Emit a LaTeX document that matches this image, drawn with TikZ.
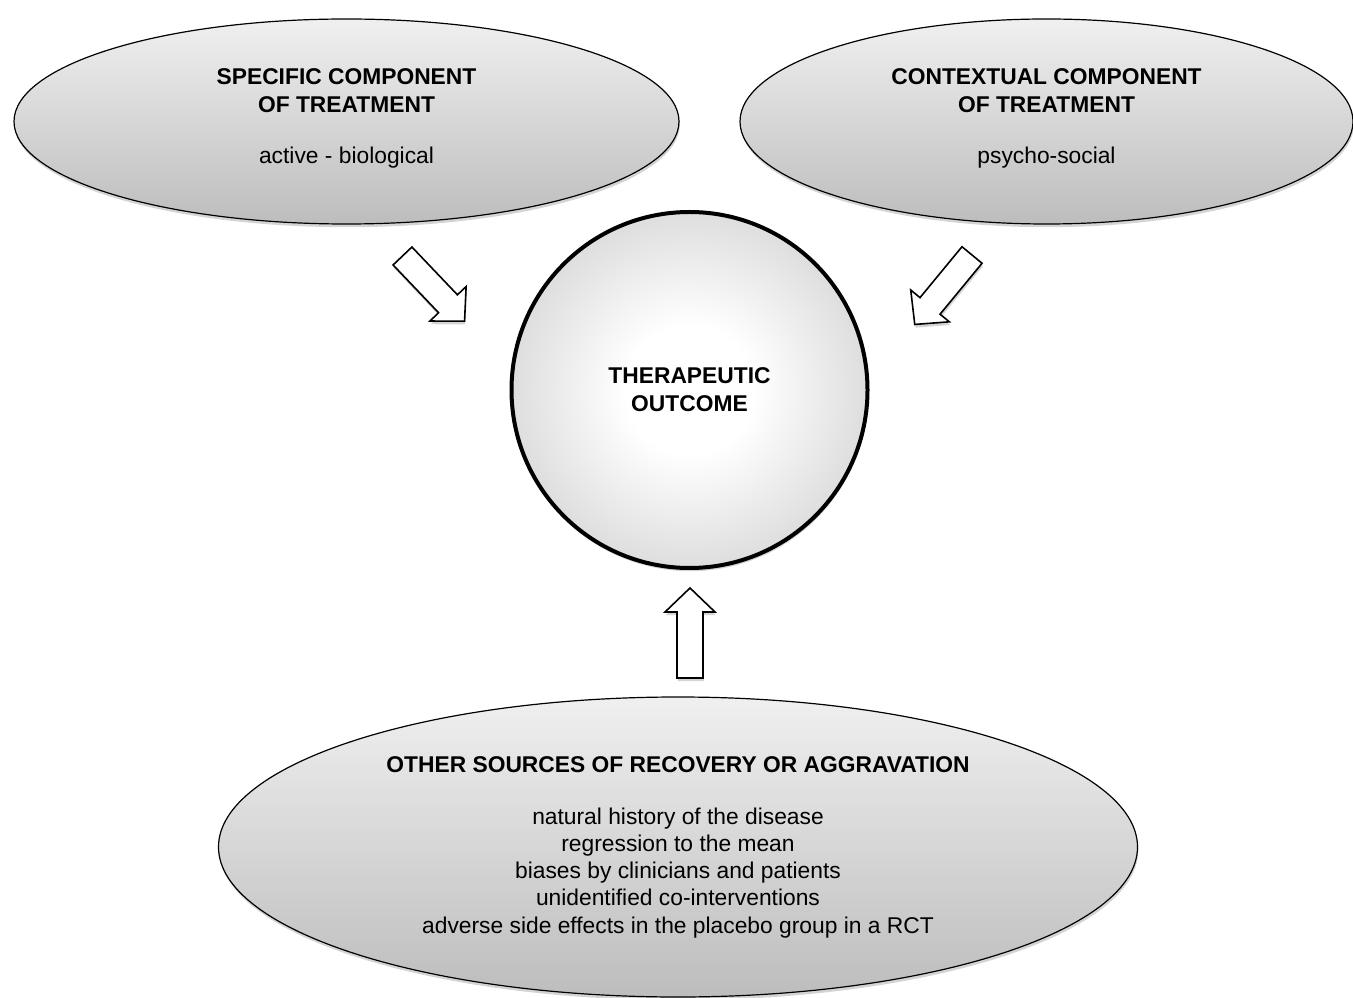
\documentclass[tikz,border=0pt]{standalone}
\usepackage{fontspec}
\setmainfont{Liberation Sans}
\usetikzlibrary{shapes.geometric,shadows}

% white core fading to grey towards the rim
\pgfdeclareradialshading{outcomeglow}{\pgfpoint{0bp}{0bp}}{%
  color(0bp)=(white); color(9bp)=(white); color(36bp)=(black!22);
  color(50bp)=(black!23)}

\tikzset{
  softshadow/.style={drop shadow={shadow xshift=0.4pt, shadow yshift=-1.6pt, opacity=0.28, fill=black!60}},
  oval/.style={ellipse, draw=black, line width=0.6pt, inner sep=0pt, align=center,
    top color=black!6, bottom color=black!26, softshadow,
    font=\fontsize{11.4}{14}\selectfont},
  hub/.style={circle, draw=black, line width=2pt, inner sep=0pt, align=center,
    shading=outcomeglow, softshadow,
    minimum size=178pt, font=\fontsize{11.4}{14}\selectfont\bfseries},
  hollowarrow/.style={draw=black, line width=0.8pt, fill=white, line join=miter, softshadow},
  blockarrow/.pic={
    \path[hollowarrow] (0,13) -- (66,13) -- (66,25) -- (90,0) -- (66,-25) -- (66,-13) -- (0,-13) -- cycle;
  }
}

\begin{document}
\begin{tikzpicture}[x=0.5pt,y=0.5pt]
  \useasboundingbox (0,0) rectangle (1353,997);

  % the two treatment components
  \node[oval, minimum width=332.5pt, minimum height=102.5pt] (specific) at (346.5,875.5)
    {\textbf{SPECIFIC COMPONENT}\\\textbf{OF TREATMENT}\\[11.5pt]active - biological\\[-13pt]\strut};
  \node[oval, minimum width=306.5pt, minimum height=102.5pt] (contextual) at (1046.5,875.5)
    {\textbf{CONTEXTUAL COMPONENT}\\\textbf{OF TREATMENT}\\[11.5pt]psycho-social\\[-13pt]\strut};

  % the outcome in the middle
  \node[hub] (outcome) at (689.5,607) {THERAPEUTIC\\OUTCOME};

  % other sources below
  \node[oval, minimum width=459.5pt, minimum height=150pt, font=\fontsize{11.4}{13.6}\selectfont] (other) at (678,150)
    {\textbf{OTHER SOURCES OF RECOVERY OR AGGRAVATION}\\[12.5pt]
     natural history of the disease\\
     regression to the mean\\
     biases by clinicians and patients\\
     unidentified co-interventions\\
     adverse side effects in the placebo group in a RCT};

  % tails of the hollow block arrows
  \coordinate (fromspecific) at (402.5,741);
  \coordinate (fromcontextual) at (972,742);
  \coordinate (fromother) at (690,319);

  \pic[rotate=-46.4] at (fromspecific) {blockarrow};
  \pic[rotate=-129.5] at (fromcontextual) {blockarrow};
  \pic[rotate=90] at (fromother) {blockarrow};
\end{tikzpicture}
\end{document}
